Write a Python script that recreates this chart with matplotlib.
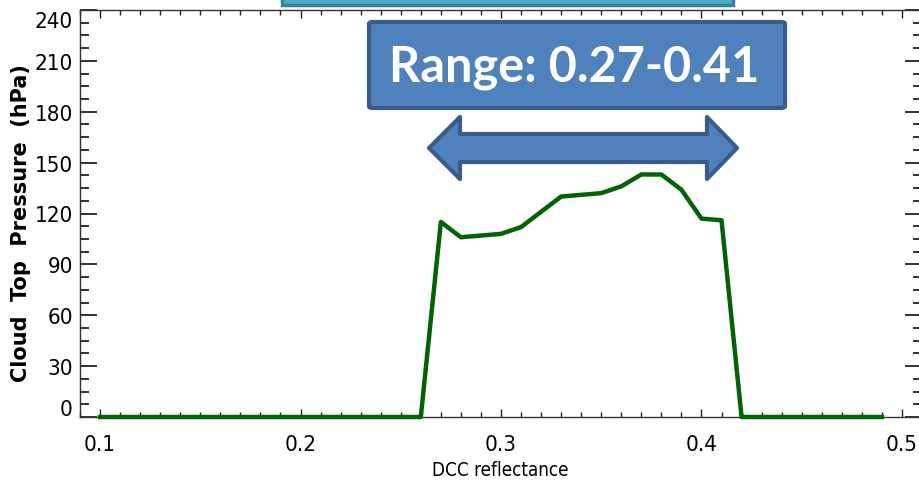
import matplotlib
matplotlib.use('Agg')
import matplotlib.pyplot as plt
from matplotlib import font_manager
from matplotlib.patches import FancyBboxPatch, Polygon
from matplotlib.ticker import MultipleLocator

# DCC reflectance bins and mean cloud top pressure per bin
reflectance = [0.10, 0.11, 0.12, 0.13, 0.14, 0.15, 0.16, 0.17, 0.18, 0.19,
               0.20, 0.21, 0.22, 0.23, 0.24, 0.25, 0.26, 0.27, 0.28, 0.29,
               0.30, 0.31, 0.32, 0.33, 0.34, 0.35, 0.36, 0.37, 0.38, 0.39,
               0.40, 0.41, 0.42, 0.43, 0.44, 0.45, 0.46, 0.47, 0.48, 0.49]
pressure = [0, 0, 0, 0, 0, 0, 0, 0, 0, 0,
            0, 0, 0, 0, 0, 0, 0, 115, 106, 107,
            108, 112, 121, 130, 131, 132, 136, 143, 143, 134,
            117, 116, 0, 0, 0, 0, 0, 0, 0, 0]
y_ticks = [0, 30, 60, 90, 120, 150, 180, 210, 240]
x_ticks = [0.1, 0.2, 0.3, 0.4, 0.5]
range_text = 'Range: 0.27-0.41'

W, H = 920, 485

# narrow face for the axis numbers
cond = [f for f in font_manager.fontManager.ttflist
        if 'Condensed' in f.fname and f.name == 'DejaVu Sans' and 'Bold' not in f.fname
        and 'Oblique' not in f.fname]
if cond:
    narrow = font_manager.FontProperties(fname=cond[0].fname)
else:
    narrow = font_manager.FontProperties(family='DejaVu Sans', stretch='condensed')


def nf(size):
    p = narrow.copy()
    p.set_size(size)
    return p


fig = plt.figure(figsize=(W / 100, H / 100), dpi=100)
fig.patch.set_facecolor('white')

# axes in pixel box: left 80, right 922 (just off the canvas), top 11, bottom 418
ax = fig.add_axes([80 / W, (H - 418) / H, (922 - 80) / W, (418 - 11) / H])
ax.plot(reflectance, pressure, color='#006400', lw=3.2, solid_joinstyle='round',
        clip_on=False, zorder=3)

ax.set_xlim(0.09, 0.51)
ax.set_ylim(0, 240)
ax.set_xticks(x_ticks)
ax.set_yticks(y_ticks)
ax.xaxis.set_minor_locator(MultipleLocator(0.01))
ax.yaxis.set_minor_locator(MultipleLocator(7.5))
ax.set_xticklabels([f'{v:.1f}' for v in x_ticks], fontproperties=nf(16))
ax.set_yticklabels([str(v) if 0 < v < 240 else '' for v in y_ticks],
                   fontproperties=nf(16))

for s in ax.spines.values():
    s.set_color('#333333')
    s.set_linewidth(1.0)

ax.tick_params(axis='x', which='major', direction='in', length=6, width=1,
               top=True, pad=12, colors='#222222', labelcolor='black')
ax.tick_params(axis='x', which='minor', direction='in', length=3.5, width=1,
               top=True, colors='#222222')
ax.tick_params(axis='y', which='major', direction='in', length=12, width=1.3,
               right=True, pad=5, colors='#222222', labelcolor='black')
ax.tick_params(axis='y', which='minor', direction='in', length=6.5, width=1.3,
               right=True, colors='#222222')

# end labels sit slightly inside the frame
ytr = ax.get_yaxis_transform()
ax.annotate('0', xy=(0, 0), xycoords=ytr, xytext=(-7, 8), textcoords='offset pixels',
            ha='right', va='center', fontproperties=nf(16))
ax.annotate('240', xy=(0, 240), xycoords=ytr, xytext=(-7, -11), textcoords='offset pixels',
            ha='right', va='center', fontproperties=nf(16))

fig.text(500 / W, (H - 471) / H, 'DCC reflectance', fontproperties=nf(13.5),
         ha='center', va='center')
fig.text(21 / W, (H - 223) / H, 'Cloud  Top  Pressure  (hPa)', family='DejaVu Sans',
         fontweight='bold', fontsize=15, rotation=90, ha='center', va='center')


def px(x, y):
    return x / W, (H - y) / H


# teal header box cut by the top edge
x0, y0 = px(282, -40)
x1, y1 = px(733, 6)
fig.add_artist(FancyBboxPatch((x0, y1), x1 - x0, y0 - y1, boxstyle='square,pad=0',
                              transform=fig.transFigure, facecolor='#4BACC6',
                              edgecolor='#31849B', lw=2.5, zorder=5))

# range label box
x0, y0 = px(369, 23)
x1, y1 = px(785, 109)
fig.add_artist(FancyBboxPatch((x0, y1), x1 - x0, y0 - y1,
                              boxstyle='round,pad=0,rounding_size=0.004',
                              transform=fig.transFigure, facecolor='#4F81BD',
                              edgecolor='#385D8A', lw=3, zorder=5))
fig.text(574 / W, (H - 82) / H, range_text, family='Lato', fontweight='bold',
         fontsize=35, color='white', ha='center', va='baseline', zorder=6)

# double headed arrow
arrow_px = [(429, 149), (460, 118), (460, 135), (707, 135), (707, 118), (737, 149),
            (707, 180), (707, 163), (460, 163), (460, 180)]
fig.add_artist(Polygon([px(x, y) for x, y in arrow_px], closed=True,
                       transform=fig.transFigure, facecolor='#4F81BD',
                       edgecolor='#385D8A', lw=3, joinstyle='round', zorder=5))

fig.savefig('out.png', dpi=100, facecolor='white')
